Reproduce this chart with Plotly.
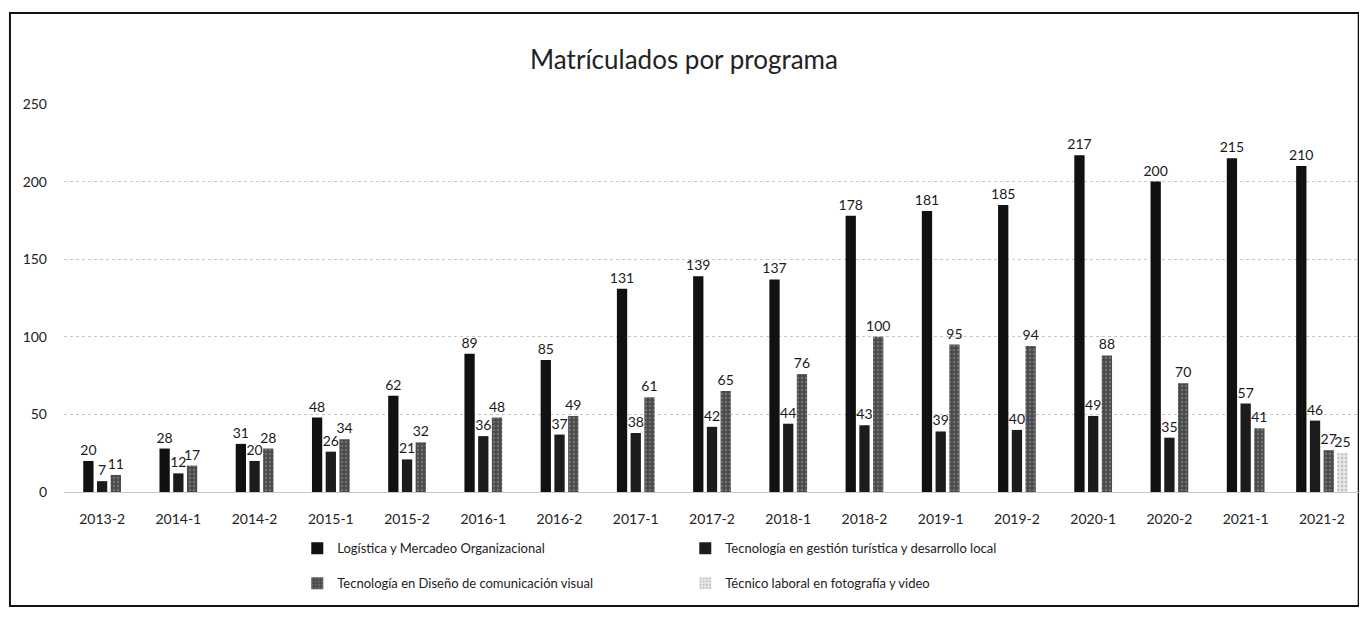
import plotly.graph_objects as go

# ---- data ----
categories = ["2013-2", "2014-1", "2014-2", "2015-1", "2015-2", "2016-1", "2016-2",
              "2017-1", "2017-2", "2018-1", "2018-2", "2019-1", "2019-2", "2020-1",
              "2020-2", "2021-1", "2021-2"]
logistica = [20, 28, 31, 48, 62, 89, 85, 131, 139, 137, 178, 181, 185, 217, 200, 215, 210]
gestion = [7, 12, 20, 26, 21, 36, 37, 38, 42, 44, 43, 39, 40, 49, 35, 57, 46]
diseno = [11, 17, 28, 34, 32, 48, 49, 61, 65, 76, 100, 95, 94, 88, 70, 41, 27]
tecnico = [None] * 16 + [25]

series_names = ["Logística y Mercadeo Organizacional",
                "Tecnología en gestión turística y desarrollo local",
                "Tecnología en Diseño de comunicación visual",
                "Técnico laboral en fotografía y video"]
series_values = [logistica, gestion, diseno, tecnico]

# ---- styles ----
FONT = "Lato"
styles = [
    dict(color="#111111", pattern=dict(shape="")),
    dict(color="#1c1c1c", pattern=dict(shape="")),
    dict(color="#4a4a4a", pattern=dict(shape=".", fgcolor="#9a9a9a", size=4, solidity=0.3)),
    dict(color="#e6e6e6", pattern=dict(shape=".", fgcolor="#9a9a9a", size=4, solidity=0.3)),
]
legend_ids = ["legend", "legend", "legend2", "legend2"]

BAR_W = 0.135   # bar width in category units
PITCH = 0.18    # distance between neighbouring bars in a group

# per-category offsets so that each group is centred on its category
offsets = [[None] * len(categories) for _ in series_values]
for j in range(len(categories)):
    present = [i for i, s in enumerate(series_values) if s[j] is not None]
    n = len(present)
    for rank, i in enumerate(present):
        offsets[i][j] = (rank - (n - 1) / 2) * PITCH - BAR_W / 2
for i in range(len(series_values)):
    offsets[i] = [o if o is not None else 0 for o in offsets[i]]

fig = go.Figure()
for i, (name, vals) in enumerate(zip(series_names, series_values)):
    fig.add_trace(go.Bar(
        x=categories, y=vals, name=name,
        width=BAR_W, offset=offsets[i],
        marker=dict(color=styles[i]["color"], pattern=styles[i]["pattern"], line=dict(width=0)),
        text=[("" if v is None else str(v)) for v in vals],
        textposition="outside", cliponaxis=False, constraintext="none",
        textfont=dict(family=FONT, size=14, color="#1a1a1a"),
        legend=legend_ids[i],
    ))

legend_common = dict(orientation="h", x=0.18, xanchor="left", yanchor="middle",
                     entrywidth=343, entrywidthmode="pixels",
                     font=dict(family=FONT, size=13, color="#222222"), itemclick=False,
                     bgcolor="rgba(0,0,0,0)")

fig.update_layout(
    width=1352, height=602,
    barmode="overlay",
    paper_bgcolor="white", plot_bgcolor="white",
    margin=dict(l=56, r=0, t=96, b=118),
    font=dict(family=FONT, size=14, color="#222222"),
    title=dict(text="Matrículados por programa", x=0.5, xanchor="center",
               y=0.914, yanchor="middle", font=dict(family=FONT, size=26, color="#222222")),
    showlegend=True,
    legend=dict(legend_common, y=-0.145),
    legend2=dict(legend_common, y=-0.235),
    shapes=[dict(type="rect", xref="paper", yref="paper",
                 x0=-0.0417, x1=0.999, y0=-0.294, y1=1.2345,
                 line=dict(color="#111111", width=2), fillcolor="rgba(0,0,0,0)", layer="below")],
)

fig.update_yaxes(range=[0, 250], dtick=50, showgrid=True, gridcolor="#c8c8c8",
                 griddash="dot", gridwidth=1, zeroline=False, showline=False,
                 ticks="", ticklabelstandoff=16,
                 tickfont=dict(family=FONT, size=14, color="#222222"))
fig.update_xaxes(type="category", showgrid=False, showline=True, linecolor="#c8c8c8",
                 linewidth=1, ticks="", ticklabelstandoff=14,
                 tickfont=dict(family=FONT, size=14, color="#222222"))

fig.write_html("out.html")
